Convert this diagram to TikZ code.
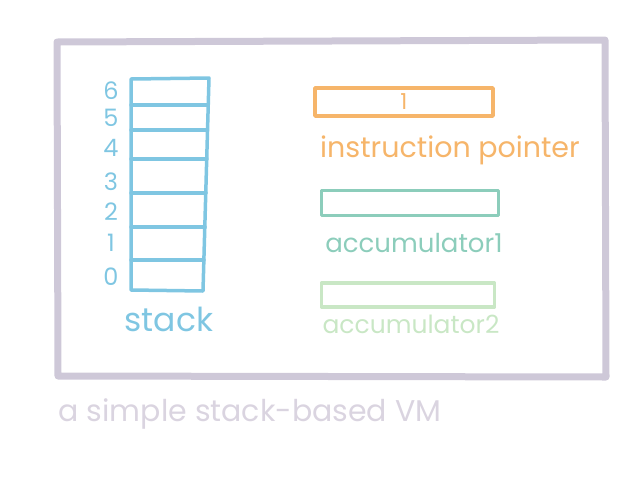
\documentclass[tikz,border=0pt]{standalone}
\usepackage{fontspec}
\setmainfont{Poppins}
\definecolor{framec}{HTML}{CEC8D8}
\definecolor{stackc}{HTML}{7FC6E2}
\definecolor{ipc}{HTML}{F6B56A}
\definecolor{acconec}{HTML}{8CCDBB}
\definecolor{acctwoc}{HTML}{C9E7C5}
\definecolor{captc}{HTML}{DAD4E0}
\tikzset{
  sketch/.style={line width=3.5pt, line cap=round, line join=round},
  lbl/.style={inner sep=0pt},
  digit/.style={inner sep=0pt, text=stackc, font=\fontsize{24}{24}\selectfont},
}
\begin{document}
\begin{tikzpicture}[x=1pt,y=-1pt]
\useasboundingbox (0,0) rectangle (640,480);
% outer frame
\draw[framec, line width=7pt, line join=round] (57,42) -- (605,40) -- (606,377) -- (58,376) -- cycle;
% stack
\draw[sketch, stackc] (131,79) -- (209,78) -- (203,291) -- (131,290) -- cycle;
\foreach \yy/\xr in {105/208,130/207,159/207,193/206,227/205,260/204}
  \draw[sketch, stackc] (131,\yy) -- (\xr,\yy);
\foreach \d/\yy in {6/91,5/118,4/148,3/182,2/212,1/243,0/277}
  \node[digit] (d\d) at (111,\yy) {\d};
\node[lbl, text=stackc, font=\fontsize{33}{33}\selectfont] (stacklbl) at (169,319) {stack};
% instruction pointer
\node[sketch, draw=ipc, minimum width=178pt, minimum height=28pt, inner sep=0pt] (ip) at (404,102) {};
\node[inner sep=0pt, text=ipc, font=\fontsize{22}{22}\selectfont] (ipval) at (ip.center) {1};
\node[lbl, text=ipc, font=\fontsize{28.5}{28.5}\selectfont] (iplbl) at (450,150) {instruction pointer};
% accumulator 1
\node[sketch, draw=acconec, minimum width=177pt, minimum height=25pt, inner sep=0pt] (acc1) at (410,203) {};
\node[lbl, text=acconec, font=\fontsize{26}{26}\selectfont] (acc1lbl) at (414,243) {accumulator1};
% accumulator 2
\node[sketch, draw=acctwoc, minimum width=173pt, minimum height=24pt, inner sep=0pt] (acc2) at (408,295) {};
\node[lbl, text=acctwoc, font=\fontsize{25}{25}\selectfont] (acc2lbl) at (411,324) {accumulator2};
% caption
\node[lbl, text=captc, font=\fontsize{30}{30}\selectfont] (cap) at (250,414) {a simple stack-based VM};
\end{tikzpicture}
\end{document}
